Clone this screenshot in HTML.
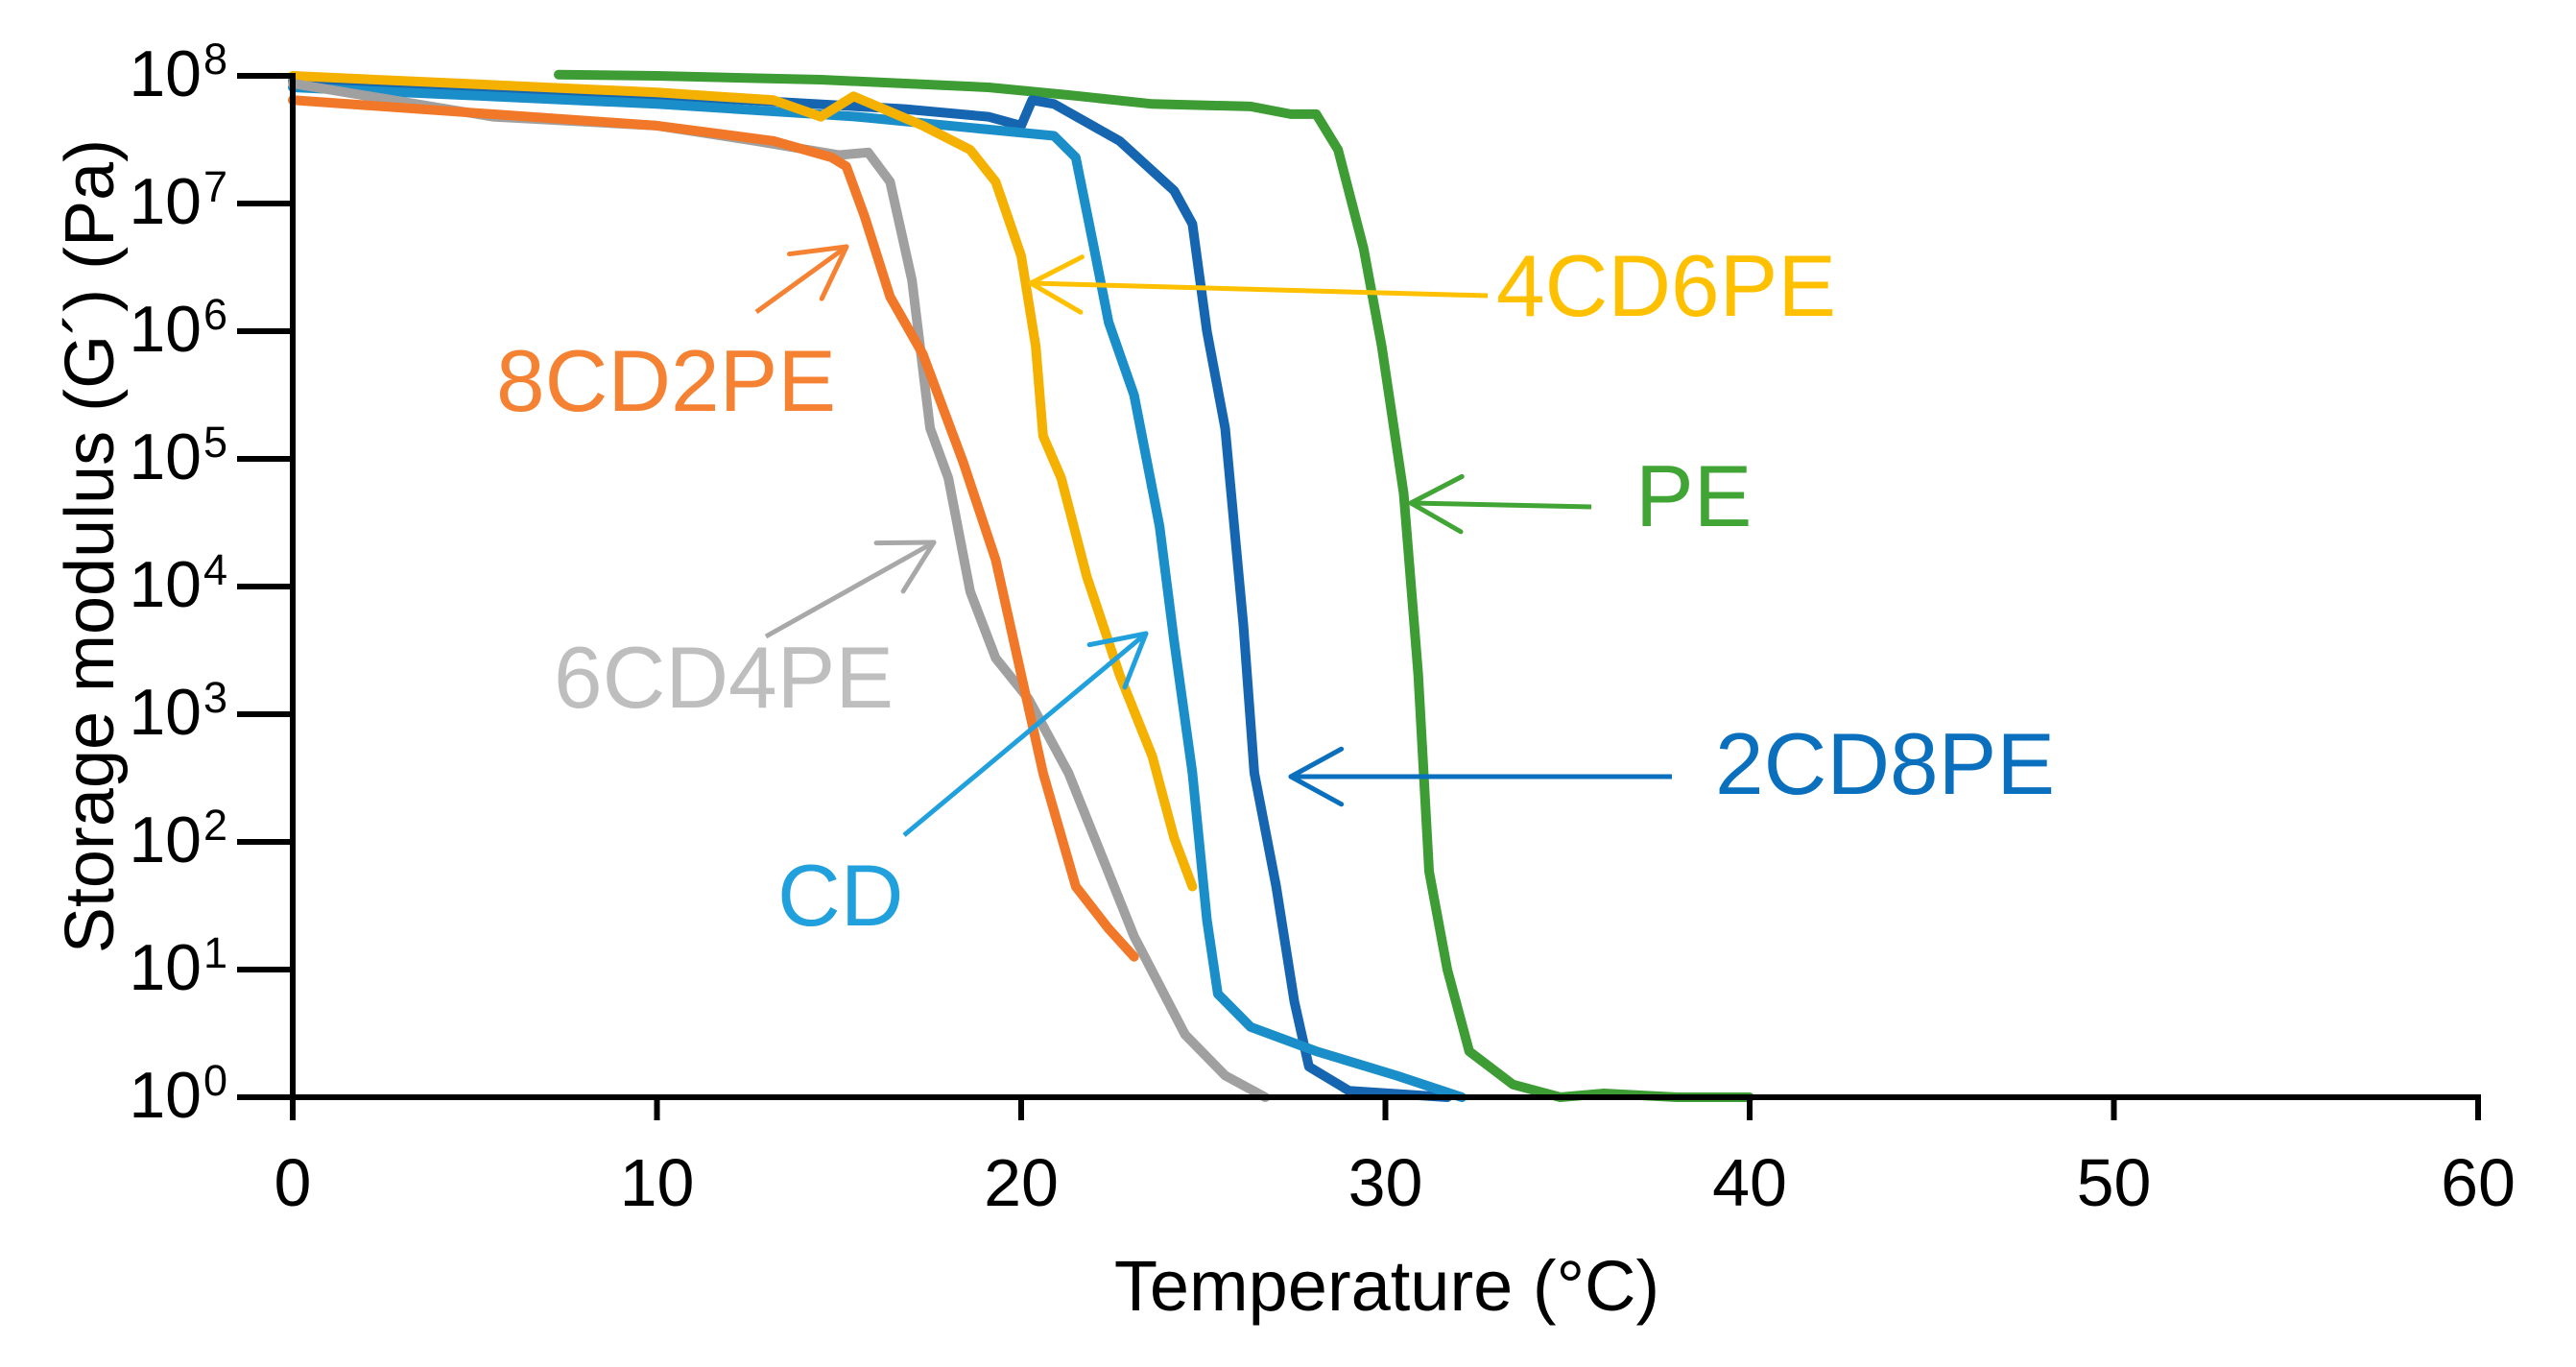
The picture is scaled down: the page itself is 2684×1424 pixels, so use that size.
<!DOCTYPE html>
<html><head><meta charset="utf-8"><style>
html,body{margin:0;padding:0;background:#fff;}
svg{display:block;font-family:"Liberation Sans",Arial,sans-serif;}
</style></head><body>
<svg id="chart" width="2684" height="1424" viewBox="0 0 2684 1424" xmlns="http://www.w3.org/2000/svg">
<g id="series"></g>
<g id="axes"></g>
<g id="annot"></g>
</svg>
<script>
const xTicks = [0,10,20,30,40,50,60];
const yExps = [0,1,2,3,4,5,6,7,8];
const seriesNames = ["PE","2CD8PE","CD","4CD6PE","6CD4PE","8CD2PE"];
const seriesColors = ["#3d9c34","#1565b0","#1a8ec8","#f5b100","#a0a0a0","#f07828"];
const tPE = [7.3,10,14.5,19.1,21.3,23.6,26.3,27.4,28.1,28.7,29.4,29.9,30.5,30.9,31.2,31.7,32.3,33.5,34.8,36,38,40];
const gPE = [8.01,8.0,7.97,7.91,7.85,7.78,7.76,7.70,7.70,7.42,6.65,5.88,4.73,3.31,1.77,1.0,0.36,0.1,0.0,0.03,0.0,0.0];
const t2CD8PE = [0,10,16.8,19.1,20,20.3,20.9,22.7,24.2,24.7,25.1,25.6,26.1,26.4,27,27.5,27.9,29,31.7];
const g2CD8PE = [7.96,7.85,7.74,7.68,7.61,7.81,7.78,7.49,7.1,6.84,6.0,5.24,3.7,2.54,1.65,0.75,0.24,0.05,0];
const tCD = [0,10,15.5,19.1,20.9,21.5,22,22.4,23.1,23.8,24.2,24.7,25.1,25.4,26.3,28.1,30.3,32.1];
const gCD = [7.91,7.78,7.68,7.58,7.53,7.36,6.65,6.07,5.5,4.47,3.57,2.54,1.39,0.81,0.55,0.36,0.17,0];
const t4CD6PE = [0,10,13.2,14.5,15.4,17.3,18.6,19.3,20,20.4,20.6,21.1,21.8,22.7,23.6,24.2,24.7];
const g4CD6PE = [8.0,7.87,7.81,7.68,7.84,7.61,7.42,7.17,6.59,5.88,5.18,4.85,4.08,3.31,2.67,2.03,1.65];
const t6CD4PE = [0,5.5,10,12.7,15,15.8,16.4,17,17.5,18,18.6,19.3,20.2,21.3,23.1,24.5,25.6,26.7];
const g6CD4PE = [7.94,7.68,7.61,7.49,7.38,7.40,7.17,6.4,5.24,4.85,3.96,3.44,3.12,2.54,1.26,0.49,0.17,0];
const t8CD2PE = [0,10,13.2,14.8,15.2,15.7,16.4,17.3,18.4,19.3,20,20.6,21.5,22.4,23.1];
const g8CD2PE = [7.81,7.61,7.49,7.36,7.29,6.9,6.27,5.82,4.98,4.21,3.31,2.54,1.65,1.32,1.1];
const seriesT = [tPE,t2CD8PE,tCD,t4CD6PE,t6CD4PE,t8CD2PE];
const seriesG = [gPE,g2CD8PE,gCD,g4CD6PE,g6CD4PE,g8CD2PE];

const NS="http://www.w3.org/2000/svg";
const X0=305, XPX=37.95, Y0=1143, YPX=133.0;
function xs(t){return X0+t*XPX;}
function ys(g){return Y0-g*YPX;}
function mk(tag,attrs,parent){const e=document.createElementNS(NS,tag);for(const k in attrs)e.setAttribute(k,attrs[k]);parent.appendChild(e);return e;}

const sg=document.getElementById('series');
seriesNames.forEach((n,i)=>{
  const pts=seriesT[i].map((t,j)=>xs(t).toFixed(1)+","+ys(seriesG[i][j]).toFixed(1)).join(" ");
  const p=mk('polyline',{points:pts,fill:'none',stroke:seriesColors[i],'stroke-width':10,'stroke-linejoin':'round','stroke-linecap':'round'},sg);
  
  
});

const ax=document.getElementById('axes');
let a=mk('line',{x1:X0,y1:Y0,x2:xs(60)+3,y2:Y0,stroke:'#000','stroke-width':6},ax);


a=mk('line',{x1:X0,y1:Y0+3,x2:X0,y2:ys(8)-3,stroke:'#000','stroke-width':6},ax);


xTicks.forEach(t=>{
  const l=mk('line',{x1:xs(t),y1:Y0,x2:xs(t),y2:Y0+24,stroke:'#000','stroke-width':6},ax);
  
  
  const tx=mk('text',{x:xs(t),y:1256,'font-size':70,'text-anchor':'middle',fill:'#000'},ax);
  tx.textContent=String(t);
  
  
});
yExps.forEach(e=>{
  const y=ys(e);
  const l=mk('line',{x1:X0-58,y1:y,x2:X0,y2:y,stroke:'#000','stroke-width':6},ax);
  
  
  const tx=mk('text',{x:210,y:y+21,'font-size':68,'text-anchor':'end',fill:'#000'},ax);
  tx.textContent='10';
  
  
  const sp=mk('text',{x:212,y:y-2,'font-size':45,'text-anchor':'start',fill:'#000'},ax);
  sp.textContent=String(e);
  
  
});
let tt=mk('text',{x:1445,y:1365,'font-size':74,'text-anchor':'middle',fill:'#000','xml:space':'preserve'},ax);
tt.textContent='Temperature  (°C)';


tt=mk('text',{x:0,y:0,'font-size':72,'text-anchor':'middle',fill:'#000',transform:'translate(118,569) rotate(-90)','xml:space':'preserve'},ax);
tt.textContent='Storage modulus  (G´)  (Pa)';



const an=document.getElementById('annot');
function arrow(name,x1,y1,x2,y2,c,w){
  const g=mk('g',{},an);
  
  
  mk('line',{x1:x1,y1:y1,x2:x2,y2:y2,stroke:c,'stroke-width':w},g);
  const ang=Math.atan2(y2-y1,x2-x1), L=60, s=0.5;
  [ang+Math.PI-s,ang+Math.PI+s].forEach(b=>{
    mk('line',{x1:x2,y1:y2,x2:x2+L*Math.cos(b),y2:y2+L*Math.sin(b),stroke:c,'stroke-width':w,'stroke-linecap':'round'},g);
  });
}
function label(name,txt,x,y,c){
  const t=mk('text',{x:x,y:y,'font-size':91,fill:c},an);
  t.textContent=txt;
  
  
}
arrow('arrow-8cd2pe',788,325,882,257,'#f58232',5);
label('label-8cd2pe','8CD2PE',517,428,'#f58232');
arrow('arrow-6cd4pe',798,663,973,565,'#a8a8a8',5);
label('label-6cd4pe','6CD4PE',577,737,'#bebebe');
arrow('arrow-cd',942,870,1194,660,'#20a0dc',5);
label('label-cd','CD',810,964,'#20a0dc');
arrow('arrow-4cd6pe',1550,308,1074,295,'#ffc000',5);
label('label-4cd6pe','4CD6PE',1559,329,'#ffc000');
arrow('arrow-pe',1658,528,1470,524,'#40a535',5);
label('label-pe','PE',1704,548,'#40a535');
arrow('arrow-2cd8pe',1742,809,1345,809,'#0a70be',5);
label('label-2cd8pe','2CD8PE',1787,827,'#0a70be');
</script>
</body></html>
